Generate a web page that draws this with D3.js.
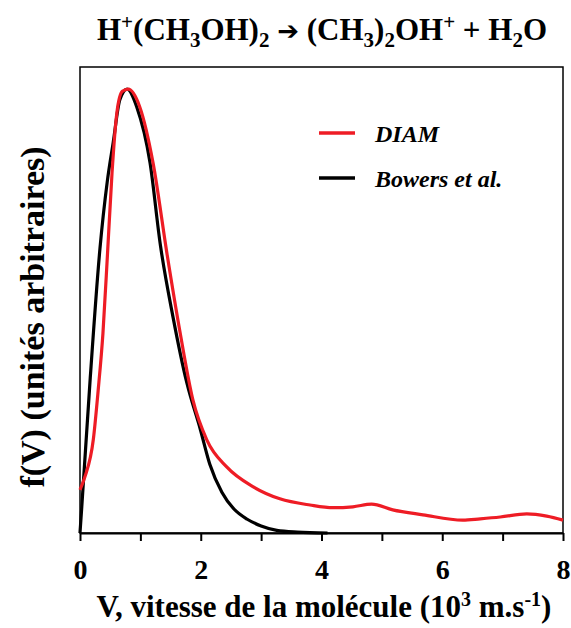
<!DOCTYPE html>
<html>
<head>
<meta charset="utf-8">
<script src="https://cdn.jsdelivr.net/npm/d3@7"></script>
<style>
  body { margin: 0; background: #fff; }
  text { font-family: "Liberation Serif", "Times New Roman", serif; font-weight: bold; }
</style>
</head>
<body>
<div id="chart"></div>
<script>
var width = 571;
var height = 628;
var margin = {left: 80, right: 8, top: 67, bottom: 95};

// DIAM curve (velocity in 10^3 m/s, arbitrary units)
var diamV = [0, 0.08, 0.22, 0.30, 0.38, 0.46, 0.53, 0.61, 0.70, 0.80, 0.99, 1.21, 1.44, 1.66, 1.87, 2.1, 2.43, 2.87, 3.31, 3.81, 4.19, 4.52, 4.83, 5.18, 5.68, 6.34, 6.63, 6.96, 7.4, 7.73, 8.0];
var diamF = [0.097, 0.126, 0.21, 0.32, 0.45, 0.64, 0.81, 0.946, 0.995, 1.0, 0.96, 0.834, 0.63, 0.45, 0.3, 0.21, 0.149, 0.104, 0.077, 0.063, 0.057, 0.059, 0.065, 0.052, 0.041, 0.029, 0.032, 0.036, 0.043, 0.038, 0.029];

// Bowers et al. curve
var bowersV = [0, 0.03, 0.17, 0.33, 0.45, 0.55, 0.66, 0.78, 0.94, 1.16, 1.33, 1.54, 1.77, 1.99, 2.15, 2.35, 2.55, 2.77, 3.0, 3.26, 3.6, 4.1];
var bowersF = [0, 0.06, 0.35, 0.64, 0.79, 0.88, 0.976, 1.0, 0.96, 0.834, 0.65, 0.487, 0.338, 0.235, 0.155, 0.092, 0.054, 0.031, 0.016, 0.006, 0.002, 0];

var xTicks = [0, 1, 2, 3, 4, 5, 6, 7, 8];
var xLabels = [0, 2, 4, 6, 8];
var seriesNames = ["DIAM", "Bowers et al."];
var seriesColors = ["#ee1c25", "#000000"];

var svg = d3.select('#chart').append('svg')
      .attr('width', width)
      .attr('height', height)

var xScale = d3.scaleLinear()
      .domain([0, 8])
      .range([margin.left, width - margin.right])

var yScale = d3.scaleLinear()
      .domain([0, 1.05])
      .range([height - margin.bottom, margin.top])

var line = d3.line()
      .x(d => xScale(d[0]))
      .y(d => yScale(d[1]))
      .curve(d3.curveMonotoneX)

// frame around the plot
svg.append('rect')
      .attr('x', xScale(0))
      .attr('y', yScale(1.05))
      .attr('width', xScale(8) - xScale(0))
      .attr('height', yScale(0) - yScale(1.05))
      .attr('fill', 'none')
      .attr('stroke', '#000')
      .attr('stroke-width', 1.5)

// bottom axis, ticks every 1, labels every 2
var xAxis = d3.axisBottom(xScale)
      .tickValues(xTicks)
      .tickSizeInner(8)
      .tickSizeOuter(0)
      .tickPadding(18)
      .tickFormat(d => xLabels.indexOf(d) >= 0 ? d : '')

var gx = svg.append('g')
      .attr('transform', 'translate(0,' + yScale(0) + ')')
      .call(xAxis)
gx.select('.domain').attr('stroke-width', 2)
gx.selectAll('.tick line').attr('stroke-width', 2)
gx.selectAll('.tick text')
      .style('font-size', '28px')
      .attr('fill', '#000')

// curves
var series = [
      {v: bowersV, f: bowersF, color: seriesColors[1]},
      {v: diamV, f: diamF, color: seriesColors[0]}
];
svg.selectAll('path.curve')
      .data(series)
      .enter()
      .append('path')
      .attr('class', 'curve')
      .attr('d', s => line(d3.zip(s.v, s.f)))
      .attr('fill', 'none')
      .attr('stroke', s => s.color)
      .attr('stroke-width', 3.2)
      .attr('stroke-linejoin', 'round')

// legend
var legend = svg.append('g')
      .attr('transform', 'translate(319,133)')
var items = legend.selectAll('g')
      .data(seriesNames)
      .enter()
      .append('g')
      .attr('transform', (d, i) => 'translate(0,' + i * 45 + ')')
items.append('line')
      .attr('x1', 0).attr('x2', 36)
      .attr('stroke', (d, i) => seriesColors[i])
      .attr('stroke-width', 3.5)
items.append('text')
      .attr('x', 56)
      .attr('y', 9)
      .style('font-size', '24px')
      .style('font-style', 'italic')
      .text(d => d)

// title with sub/superscripts
var title = svg.append('text')
      .attr('x', 322)
      .attr('y', 40)
      .style('text-anchor', 'middle')
      .style('font-size', '31px')
var parts = [
      ['H', 0], ['+', 1], ['(CH', 0], ['3', -1], ['OH)', 0], ['2', -1],
      [' ', 0], ['\u2794', 2], [' (CH', 0], ['3', -1], [')', 0], ['2', -1], ['OH', 0], ['+', 1],
      [' + H', 0], ['2', -1], ['O', 0]
];
var prev = 0;
parts.forEach(function (p) {
      var shift = p[1] == 1 ? -11 : (p[1] == -1 ? 7 : 0);
      var t = title.append('tspan')
            .attr('dy', shift - prev)
            .style('font-size', p[1] == 0 ? '31px' : (p[1] == 2 ? '26px' : '21px'))
            .text(p[0]);
      if (p[1] == 2) t.style('font-family', '"DejaVu Sans"');
      prev = shift;
});

// x axis label
var xl = svg.append('text')
      .attr('x', 324)
      .attr('y', 617)
      .style('text-anchor', 'middle')
      .style('font-size', '31px')
xl.append('tspan').text('V, vitesse de la molécule (10')
xl.append('tspan').attr('dy', -11).style('font-size', '20px').text('3')
xl.append('tspan').attr('dy', 11).text(' m.s')
xl.append('tspan').attr('dy', -11).style('font-size', '20px').text('-1')
xl.append('tspan').attr('dy', 11).text(')')

// y axis label
svg.append('text')
      .attr('transform', 'rotate(-90)')
      .attr('x', -317)
      .attr('y', 44)
      .style('text-anchor', 'middle')
      .style('font-size', '34px')
      .text('f(V) (unités arbitraires)')
</script>
</body>
</html>
